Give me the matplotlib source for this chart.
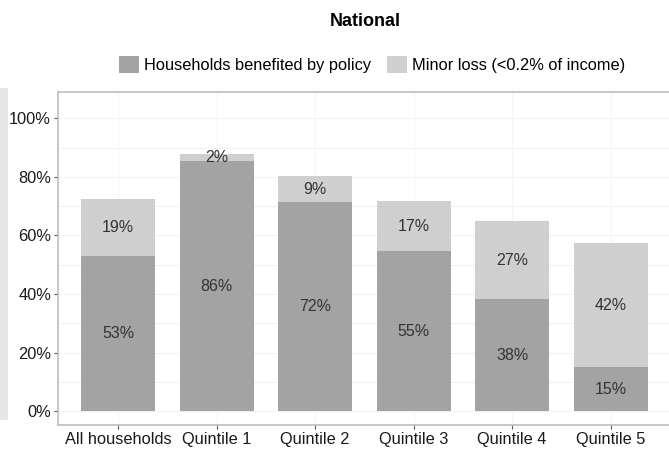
import matplotlib
matplotlib.use("Agg")
import matplotlib.pyplot as plt
from matplotlib.patches import Rectangle, Patch
import numpy as np

plt.rcParams['font.family'] = ['Liberation Sans', 'DejaVu Sans']

groups = ["All households", "Quintile 1", "Quintile 2", "Quintile 3", "Quintile 4", "Quintile 5"]
benefited = [0.53, 0.853, 0.715, 0.546, 0.382, 0.15]
minor_loss = [0.193, 0.024, 0.087, 0.171, 0.266, 0.423]
benefited_labels = ["53%", "86%", "72%", "55%", "38%", "15%"]
minor_labels = ["19%", "2%", "9%", "17%", "27%", "42%"]
yticks = [0, 0.2, 0.4, 0.6, 0.8, 1.0]
ytick_labels = ["0%", "20%", "40%", "60%", "80%", "100%"]

dark = "#a3a3a3"
light = "#cfcfcf"

fig = plt.figure(figsize=(6.69, 4.5), dpi=100)
ax = fig.add_axes([0.0867, 0.0556, 0.916, 0.74])

x = np.arange(len(groups))
ax.bar(x, benefited, width=0.75, color=dark, zorder=2)
ax.bar(x, minor_loss, width=0.75, bottom=benefited, color=light, zorder=2)

for i in range(len(groups)):
    ax.text(x[i], benefited[i] / 2, benefited_labels[i], ha='center', va='center',
            fontsize=11.5, color='#333333', zorder=3)
    ax.text(x[i], benefited[i] + minor_loss[i] / 2, minor_labels[i], ha='center', va='center',
            fontsize=11.5, color='#333333', zorder=3)

ax.set_xlim(-0.61, 5.61)
ax.set_ylim(-0.047, 1.09)
ax.set_xticks(x)
ax.set_xticklabels(groups, fontsize=11.8, color='#1a1a1a')
ax.set_yticks(yticks)
ax.set_yticklabels(ytick_labels, fontsize=11.8, color='#1a1a1a')
ax.set_yticks([0.1, 0.3, 0.5, 0.7, 0.9], minor=True)
ax.tick_params(axis='both', which='major', length=3, color='#555555', pad=2)
ax.tick_params(axis='y', which='minor', length=0)
ax.grid(True, which='both', axis='y', color='#f2f2f2', lw=0.8, zorder=0)
ax.grid(True, which='major', axis='x', color='#f5f5f5', lw=0.8, zorder=0)
for s in ax.spines.values():
    s.set_color('#bdbdbd')
    s.set_linewidth(1.2)

fig.text(0.546, 0.953, "National", ha='center', va='center', fontsize=13, fontweight='bold')

handles = [Patch(facecolor=dark, edgecolor='none'), Patch(facecolor=light, edgecolor='none')]
fig.legend(handles, ["Households benefited by policy", "Minor loss (<0.2% of income)"],
           loc='center', bbox_to_anchor=(0.556, 0.856), ncol=2, frameon=False,
           fontsize=11.8, handlelength=1.2, handleheight=1.2, handletextpad=0.3,
           columnspacing=1.0)

# light strip at the left edge of the screenshot
fig.patches.append(Rectangle((0, 0.067), 0.012, 0.738, transform=fig.transFigure,
                             facecolor='#e6e6e6', edgecolor='none'))

fig.savefig("out.png", dpi=100)
